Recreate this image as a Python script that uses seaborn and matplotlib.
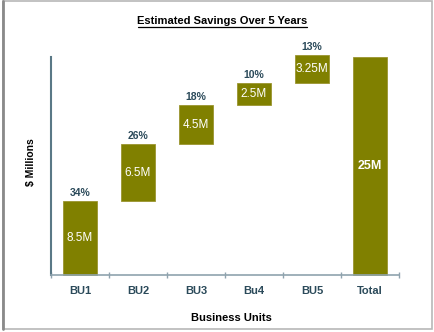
import matplotlib
matplotlib.use("Agg")
import matplotlib.pyplot as plt
import matplotlib.patches as mpatches
import matplotlib.lines as mlines
import pandas as pd
import seaborn as sns

units = ["BU1", "BU2", "BU3", "Bu4", "BU5", "Total"]
savings = [8.5, 6.5, 4.5, 2.5, 3.25, 25]
value_labels = ["8.5M", "6.5M", "4.5M", "2.5M", "3.25M", "25M"]
share_labels = ["34%", "26%", "18%", "10%", "13%", ""]

# waterfall bases: each business unit starts where the previous one ended
bases = []
running = 0.0
for u, v in zip(units, savings):
    if u == "Total":
        bases.append(0.0)
    else:
        bases.append(running)
        running += v

df = pd.DataFrame({"unit": units, "savings": savings, "base": bases})

sns.set_theme(style="white")
plt.rcParams["font.family"] = ["Liberation Sans", "DejaVu Sans"]

fig = plt.figure(figsize=(4.34, 3.32), dpi=100)
ax = fig.add_axes([51 / 434, 1 - 275 / 332, 348 / 434, 218 / 332])

olive = "#808000"
sns.barplot(data=df, x="unit", y="savings", order=units, bottom=df["base"].values,
            color=olive, saturation=1, width=0.6, ax=ax, clip_on=False,
            edgecolor="#9a9530", linewidth=0.6)

ax.set_xlim(-0.5, 5.5)
ax.set_ylim(0, 25)

text_dark = "#2b4a5a"
for i, (v, b) in enumerate(zip(savings, bases)):
    is_total = units[i] == "Total"
    ax.text(i, b + v / 2, value_labels[i], ha="center", va="center",
            color="white", fontsize=9 if is_total else 8.5,
            fontweight="bold" if is_total else "normal")
    if share_labels[i]:
        ax.text(i, b + v + 0.35, share_labels[i], ha="center", va="bottom",
                color=text_dark, fontsize=7.5, fontweight="bold")

# spines and ticks
for s in ["top", "right"]:
    ax.spines[s].set_visible(False)
ax.spines["left"].set_color("#5a7886")
ax.spines["left"].set_linewidth(1.5)
ax.spines["bottom"].set_color("#8fa3ae")
ax.spines["bottom"].set_linewidth(1.2)
ax.set_yticks([])
ax.set_xticks(range(len(units)))
ax.set_xticklabels(units, fontsize=8, fontweight="bold", color=text_dark)
ax.tick_params(axis="x", which="major", length=0, pad=8)
ax.set_xticks([i - 0.5 for i in range(len(units) + 1)], minor=True)
ax.tick_params(axis="x", which="minor", direction="inout", length=4,
               width=1, color="#8fa3ae", bottom=True)

ax.set_xlabel("Business Units", fontsize=8, fontweight="bold", color="black")
ax.xaxis.set_label_coords((231 - 51) / 348, (275 - 313) / 218)
ax.set_ylabel("$ Millions", fontsize=7.5, fontweight="bold", color="black")
ax.yaxis.set_label_coords((36 - 51) / 348, (275 - 162) / 218)

fig.text(0.5 * (138 + 307) / 434, 1 - 21 / 332, "Estimated Savings Over 5 Years",
         ha="center", va="center", fontsize=8, fontweight="bold",
         color="black")
# underline beneath the title
fig.add_artist(mlines.Line2D([138 / 434, 307 / 434], [1 - 26.5 / 332, 1 - 26.5 / 332],
                             color="black", lw=0.9, transform=fig.transFigure))

# chart frame
fig.add_artist(mpatches.Rectangle((2.5 / 434, 1 - 329 / 332), 429 / 434, 328 / 332,
                                  transform=fig.transFigure, fill=False,
                                  edgecolor="#b8b8b8", lw=1.2))
fig.add_artist(mlines.Line2D([3 / 434, 3 / 434], [1 - 329 / 332, 1 - 1 / 332],
                             color="#8a8a8a", lw=2, transform=fig.transFigure))

fig.savefig("out.png", dpi=100)
